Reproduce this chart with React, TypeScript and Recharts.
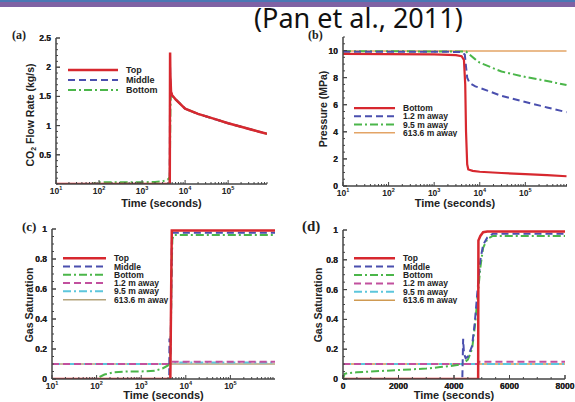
import React from "react";
import { LineChart, Line, XAxis, YAxis, Legend } from "recharts";

// ---- panel (a): CO2 flow rate (kg/s) vs time, log x ----
const flowTimeTopMid = [10, 4400, 4480, 4530, 4700, 5000, 6000, 8000, 1e4, 2e4, 5e4, 1e5, 2e5, 5e5, 8e5];
const flowTop = [0, 0, 2.25, 1.9, 1.58, 1.52, 1.45, 1.36, 1.29, 1.2, 1.11, 1.04, 0.98, 0.9, 0.86];
const flowMiddle = [0, 0, 2.0, 1.8, 1.57, 1.51, 1.45, 1.36, 1.29, 1.2, 1.11, 1.04, 0.98, 0.9, 0.86];
const flowTimeBottom = [10, 70, 90, 200, 500, 1000, 2000, 3000, 4000, 4400, 4560, 4700, 5000, 6000, 8000, 1e4, 2e4, 5e4, 1e5, 2e5, 5e5, 8e5];
const flowBottom = [0, 0, 0.03, 0.03, 0.03, 0.03, 0.035, 0.045, 0.08, 0.12, 1.3, 1.56, 1.51, 1.45, 1.36, 1.29, 1.2, 1.11, 1.04, 0.98, 0.9, 0.86];

// ---- panel (b): pressure (MPa) vs time, log x ----
const presTimeBottom = [10, 1000, 3000, 4000, 4500, 4800, 5000, 5300, 5600, 7000, 1e4, 3e4, 1e5, 3e5, 8e5];
const presBottom = [9.75, 9.72, 9.66, 9.58, 9.3, 7.5, 4.0, 1.6, 1.22, 1.12, 1.05, 0.96, 0.88, 0.8, 0.72];
const presTime12 = [10, 4000, 4700, 5000, 5300, 6000, 8000, 1e4, 3e4, 1e5, 3e5, 8e5];
const pres12 = [9.92, 9.9, 9.7, 8.8, 8.0, 7.6, 7.35, 7.25, 6.65, 6.2, 5.8, 5.45];
const presTime95 = [10, 5000, 6000, 8000, 1e4, 3e4, 1e5, 3e5, 8e5];
const pres95 = [9.95, 9.93, 9.7, 9.35, 9.1, 8.45, 8.05, 7.75, 7.45];
const presTime6136 = [10, 8e5];
const pres6136 = [9.97, 9.97];

// ---- panel (c): gas saturation vs time, log x ----
const satLogTimeTop = [10, 4500, 4700, 4850, 1e6];
const satLogTop = [0, 0, 0.6, 0.99, 0.99];
const satLogTimeMid = [10, 4250, 4300, 4350, 4450, 4550, 4700, 4850, 5000, 1e6];
const satLogMid = [0, 0, 0.27, 0.15, 0.12, 0.2, 0.5, 0.9, 0.975, 0.975];
const satLogTimeBot = [10, 95, 150, 250, 500, 1000, 2000, 3000, 4000, 4400, 4600, 4800, 5000, 5300, 1e6];
const satLogBot = [0, 0, 0.03, 0.045, 0.05, 0.05, 0.055, 0.07, 0.09, 0.11, 0.25, 0.7, 0.93, 0.96, 0.96];
const satLogTime12 = [10, 4500, 4800, 1e6];
const satLog12 = [0.1, 0.1, 0.115, 0.115];
const satLogTime95 = [10, 4500, 4800, 1e6];
const satLog95 = [0.1, 0.1, 0.11, 0.11];
const satLogTime6136 = [10, 1e6];
const satLog6136 = [0.1, 0.1];

// ---- panel (d): gas saturation vs time, linear x ----
const satTimeTop = [0, 4870, 4880, 4950, 5050, 5200, 8000];
const satTop = [0, 0, 0.93, 0.96, 0.985, 0.99, 0.99];
const satTimeMid = [0, 4300, 4330, 4360, 4420, 4500, 4650, 4750, 4850, 4950, 5050, 5200, 5400, 8000];
const satMid = [0, 0, 0.27, 0.17, 0.14, 0.15, 0.22, 0.38, 0.6, 0.8, 0.9, 0.95, 0.975, 0.975];
const satTimeBot = [0, 60, 200, 500, 1000, 2000, 3000, 3500, 4000, 4300, 4500, 4650, 4750, 4850, 4950, 5050, 5200, 5400, 8000];
const satBot = [0, 0.035, 0.04, 0.045, 0.05, 0.06, 0.07, 0.08, 0.09, 0.1, 0.13, 0.2, 0.35, 0.55, 0.75, 0.88, 0.94, 0.96, 0.96];
const satTime12 = [0, 4870, 4900, 8000];
const sat12 = [0.1, 0.1, 0.115, 0.115];
const satTime95 = [0, 8000];
const sat95 = [0.1, 0.1];
const satTime6136 = [0, 8000];
const sat6136 = [0.1, 0.1];

// ---- ticks ----
const logMajor = [10, 100, 1000, 1e4, 1e5];
const flowTicks = [0.5, 1, 1.5, 2, 2.5];
const presTicks = [0, 2, 4, 6, 8, 10];
const satTicks = [0, 0.2, 0.4, 0.6, 0.8, 1];
const linTimeTicks = [0, 2000, 4000, 6000, 8000];

const FONT = "'Liberation Sans', Arial, sans-serif";
const RED = "#d7282f";
const BLUE = "#4a4fae";
const GREEN = "#4bb64a";
const ORANGE = "#e3a466";
const MAGENTA = "#c2509e";
const CYAN = "#5cc6dc";
const TAN = "#b4a47c";
const TAN_D = "#cf9a52";
const AXIS = "#444";

const pts = (xs: number[], ys: number[]) => xs.map((x, i) => ({ x, y: ys[i] }));

function logMinors(max: number) {
  const out: number[] = [];
  for (let e = 1; e <= 5; e++) {
    for (let m = 2; m <= 9; m++) {
      const v = m * Math.pow(10, e);
      if (v <= max) out.push(v);
    }
  }
  return out;
}

function linMinors(max: number, step: number) {
  const out: number[] = [];
  for (let i = 0; i * step <= max + 1e-9; i++) out.push(Math.round(i * step * 1000) / 1000);
  return out;
}

type Series = { name: string; xs: number[]; ys: number[]; color: string; width: number; dash?: string };

const M = 6;

function xTick(majors: number[], log: boolean, side: "bottom" | "top") {
  return (p: any) => {
    const v = p.payload.value;
    const isMajor = majors.some((m) => Math.abs(m - v) < 1e-6);
    const len = isMajor ? 4 : 2;
    if (side === "top") {
      const ay = p.y + M;
      return <line x1={p.x} x2={p.x} y1={ay} y2={ay + len} stroke={AXIS} strokeWidth={1} />;
    }
    const ay = p.y - M;
    let label: React.ReactNode = null;
    if (isMajor) {
      label = log ? (
        <text x={p.x} y={ay + 10} textAnchor="middle" fontSize={8.5} fontWeight="bold" fontFamily={FONT} fill="#222">
          10<tspan dy={-4} fontSize={5.5}>{Math.round(Math.log10(v))}</tspan>
        </text>
      ) : (
        <text x={p.x} y={ay + 10} textAnchor="middle" fontSize={8.5} fontWeight="bold" fontFamily={FONT} fill="#222">
          {v}
        </text>
      );
    }
    return (
      <g>
        <line x1={p.x} x2={p.x} y1={ay} y2={ay - len} stroke={AXIS} strokeWidth={1} />
        {label}
      </g>
    );
  };
}

function yTick(majors: number[], side: "left" | "right") {
  return (p: any) => {
    const v = p.payload.value;
    const isMajor = majors.some((m) => Math.abs(m - v) < 1e-6);
    const len = isMajor ? 4 : 2;
    if (side === "right") {
      const ax = p.x - M;
      return <line x1={ax} x2={ax - len} y1={p.y} y2={p.y} stroke={AXIS} strokeWidth={1} />;
    }
    const ax = p.x + M;
    return (
      <g>
        <line x1={ax} x2={ax + len} y1={p.y} y2={p.y} stroke={AXIS} strokeWidth={1} />
        {isMajor ? (
          <text x={ax - 5} y={p.y + 3} textAnchor="end" fontSize={8.5} fontWeight="bold" fontFamily={FONT} fill="#222">
            {v}
          </text>
        ) : null}
      </g>
    );
  };
}

function LegendBox({ items, rowH, lineW, fontSize }: { items: Series[]; rowH: number; lineW: number; fontSize: number }) {
  const w = 130;
  return (
    <svg width={w} height={items.length * rowH} style={{ display: "block" }}>
      {items.map((s, i) => {
        const cy = i * rowH + rowH / 2;
        return (
          <g key={s.name}>
            <line x1={0} x2={lineW} y1={cy} y2={cy} stroke={s.color} strokeWidth={s.width} strokeDasharray={s.dash} />
            <text x={lineW + 8} y={cy + fontSize * 0.36} fontSize={fontSize} fontWeight="bold" fontFamily={FONT} fill="#222">
              {s.name}
            </text>
          </g>
        );
      })}
    </svg>
  );
}

type PanelProps = {
  box: { left: number; top: number; width: number; height: number };
  plot: { x0: number; x1: number; y0: number; y1: number };
  log: boolean;
  xDomain: [number, number];
  xMajor: number[];
  xMinor: number[];
  yDomain: [number, number];
  yMajor: number[];
  yMinor: number[];
  yLabel: React.ReactNode;
  yLabelX: number;
  yLabelY: number;
  xLabelY: number;
  series: Series[];
  legend: { x: number; y: number; rowH: number; lineW: number; fontSize: number };
};

function Panel(props: PanelProps) {
  const { box, plot } = props;
  const YW = 30;
  const XH = 30;
  const margin = {
    top: plot.y0 - box.top,
    left: plot.x0 - box.left - YW,
    right: box.left + box.width - plot.x1,
    bottom: box.top + box.height - XH - plot.y1,
  };
  const xTicksAll = [...props.xMajor, ...props.xMinor].sort((a, b) => a - b);
  const yTicksAll = [...props.yMajor, ...props.yMinor].sort((a, b) => a - b);
  const scale = props.log ? "log" : "linear";
  return (
    <div style={{ position: "absolute", left: box.left, top: box.top }}>
      <LineChart width={box.width} height={box.height} margin={margin}>
        <XAxis
          xAxisId={0}
          dataKey="x"
          type="number"
          scale={scale}
          domain={props.xDomain}
          allowDataOverflow
          ticks={xTicksAll}
          interval={0}
          height={XH}
          tickSize={0}
          tickMargin={M}
          tick={xTick(props.xMajor, props.log, "bottom")}
          axisLine={{ stroke: AXIS, strokeWidth: 1.5 }}
          label={{
            content: () => (
              <text x={(plot.x0 + plot.x1) / 2 - box.left} y={props.xLabelY - box.top} textAnchor="middle" fontSize={11} fontWeight="bold" fontFamily={FONT} fill="#222">
                Time (seconds)
              </text>
            ),
          }}
        />
        <XAxis
          xAxisId="top"
          dataKey="x"
          orientation="top"
          type="number"
          scale={scale}
          domain={props.xDomain}
          allowDataOverflow
          ticks={xTicksAll}
          interval={0}
          height={0}
          tickSize={0}
          tickMargin={M}
          tick={xTick(props.xMajor, props.log, "top")}
          axisLine={{ stroke: AXIS, strokeWidth: 1.5 }}
        />
        <YAxis
          yAxisId={0}
          type="number"
          domain={props.yDomain}
          allowDataOverflow
          ticks={yTicksAll}
          interval={0}
          width={YW}
          tickSize={0}
          tickMargin={M}
          tick={yTick(props.yMajor, "left")}
          axisLine={{ stroke: AXIS, strokeWidth: 1.5 }}
          label={{
            content: () => {
              const x = props.yLabelX - box.left;
              const y = props.yLabelY - box.top;
              return (
                <text x={x} y={y} transform={`rotate(-90 ${x} ${y})`} textAnchor="middle" dominantBaseline="central" fontSize={10.5} fontWeight="bold" fontFamily={FONT} fill="#222">
                  {props.yLabel}
                </text>
              );
            },
          }}
        />
        <YAxis
          yAxisId="right"
          orientation="right"
          type="number"
          domain={props.yDomain}
          allowDataOverflow
          ticks={yTicksAll}
          interval={0}
          width={0}
          tickSize={0}
          tickMargin={M}
          tick={yTick(props.yMajor, "right")}
          axisLine={{ stroke: AXIS, strokeWidth: 1.5 }}
        />
        <Legend
          layout="vertical"
          align="center"
          verticalAlign="middle"
          wrapperStyle={{ left: props.legend.x - box.left, top: props.legend.y - box.top, width: "auto", height: "auto" }}
          content={() => (
            <LegendBox items={props.series} rowH={props.legend.rowH} lineW={props.legend.lineW} fontSize={props.legend.fontSize} />
          )}
        />
        {props.series
          .slice()
          .reverse()
          .map((s) => (
            <Line
              key={s.name}
              data={pts(s.xs, s.ys)}
              dataKey="y"
              name={s.name}
              type="linear"
              stroke={s.color}
              strokeWidth={s.width}
              strokeDasharray={s.dash}
              dot={false}
              activeDot={false}
              legendType="none"
              isAnimationActive={false}
            />
          ))}
      </LineChart>
    </div>
  );
}

const DASH = "7 4";
const DASHDOT = "8 3 2 3";

export default function App() {
  const seriesA: Series[] = [
    { name: "Top", xs: flowTimeTopMid, ys: flowTop, color: RED, width: 2.5 },
    { name: "Middle", xs: flowTimeTopMid, ys: flowMiddle, color: BLUE, width: 2, dash: DASH },
    { name: "Bottom", xs: flowTimeBottom, ys: flowBottom, color: GREEN, width: 2, dash: DASHDOT },
  ];
  const seriesB: Series[] = [
    { name: "Bottom", xs: presTimeBottom, ys: presBottom, color: RED, width: 2.2 },
    { name: "1.2 m away", xs: presTime12, ys: pres12, color: BLUE, width: 2, dash: DASH },
    { name: "9.5 m away", xs: presTime95, ys: pres95, color: GREEN, width: 2, dash: DASHDOT },
    { name: "613.6 m away", xs: presTime6136, ys: pres6136, color: ORANGE, width: 1.5 },
  ];
  const seriesC: Series[] = [
    { name: "Top", xs: satLogTimeTop, ys: satLogTop, color: RED, width: 2.5 },
    { name: "Middle", xs: satLogTimeMid, ys: satLogMid, color: BLUE, width: 2, dash: DASH },
    { name: "Bottom", xs: satLogTimeBot, ys: satLogBot, color: GREEN, width: 2, dash: DASHDOT },
    { name: "1.2 m away", xs: satLogTime12, ys: satLog12, color: MAGENTA, width: 2, dash: DASH },
    { name: "9.5 m away", xs: satLogTime95, ys: satLog95, color: CYAN, width: 2, dash: DASHDOT },
    { name: "613.6 m away", xs: satLogTime6136, ys: satLog6136, color: TAN, width: 1.5 },
  ];
  const seriesD: Series[] = [
    { name: "Top", xs: satTimeTop, ys: satTop, color: RED, width: 2.5 },
    { name: "Middle", xs: satTimeMid, ys: satMid, color: BLUE, width: 2, dash: DASH },
    { name: "Bottom", xs: satTimeBot, ys: satBot, color: GREEN, width: 2, dash: DASHDOT },
    { name: "1.2 m away", xs: satTime12, ys: sat12, color: MAGENTA, width: 2, dash: DASH },
    { name: "9.5 m away", xs: satTime95, ys: sat95, color: CYAN, width: 2, dash: DASHDOT },
    { name: "613.6 m away", xs: satTime6136, ys: sat6136, color: TAN_D, width: 1.5 },
  ];

  const panelLabel = (text: string, x: number, y: number, size: number) => (
    <div
      style={{
        position: "absolute",
        left: x,
        top: y,
        fontFamily: "'Liberation Serif', 'Times New Roman', serif",
        fontSize: size,
        fontWeight: "bold",
        color: "#222",
        lineHeight: 1,
      }}
    >
      {text}
    </div>
  );

  return (
    <div style={{ position: "absolute", left: 0, top: 0, width: 575, height: 402, background: "#fff", overflow: "hidden" }}>
      <div style={{ position: "absolute", left: 0, top: 0, width: 575, height: 2, background: "#4a78b4" }} />
      <div style={{ position: "absolute", left: 0, top: 2, width: 575, height: 5, background: "#7f62a4" }} />
      <div
        style={{
          position: "absolute",
          left: 254,
          top: 4,
          fontFamily: "'Noto Sans', 'Open Sans', sans-serif",
          fontSize: 27,
          color: "#111",
          lineHeight: 1,
          whiteSpace: "nowrap",
        }}
      >
        (Pan et al., 2011)
      </div>

      <Panel
        box={{ left: 0, top: 0, width: 287, height: 215 }}
        plot={{ x0: 56, x1: 267, y0: 38, y1: 184 }}
        log
        xDomain={[10, 8e5]}
        xMajor={logMajor}
        xMinor={logMinors(8e5)}
        yDomain={[0, 2.5]}
        yMajor={flowTicks}
        yMinor={linMinors(2.5, 0.1)}
        yLabel={
          <>
            CO<tspan dy={3} fontSize={7}>2</tspan>
            <tspan dy={-3}> Flow Rate (kg/s)</tspan>
          </>
        }
        yLabelX={30}
        yLabelY={115}
        xLabelY={207}
        series={seriesA}
        legend={{ x: 68, y: 65, rowH: 10, lineW: 50, fontSize: 9 }}
      />
      <Panel
        box={{ left: 287, top: 0, width: 288, height: 215 }}
        plot={{ x0: 343, x1: 567, y0: 37, y1: 186 }}
        log
        xDomain={[10, 8.2e5]}
        xMajor={logMajor}
        xMinor={logMinors(8.2e5)}
        yDomain={[0, 11]}
        yMajor={presTicks}
        yMinor={linMinors(11, 0.5)}
        yLabel="Pressure (MPa)"
        yLabelX={323}
        yLabelY={109}
        xLabelY={207}
        series={seriesB}
        legend={{ x: 354, y: 104, rowH: 8.2, lineW: 41, fontSize: 8.5 }}
      />
      <Panel
        box={{ left: 0, top: 200, width: 287, height: 202 }}
        plot={{ x0: 52, x1: 275, y0: 229, y1: 379 }}
        log
        xDomain={[10, 1e6]}
        xMajor={logMajor}
        xMinor={logMinors(1e6)}
        yDomain={[0, 1]}
        yMajor={satTicks}
        yMinor={linMinors(1, 0.05)}
        yLabel="Gas Saturation"
        yLabelX={29}
        yLabelY={305}
        xLabelY={399}
        series={seriesC}
        legend={{ x: 63, y: 254, rowH: 8.3, lineW: 43, fontSize: 8.5 }}
      />
      <Panel
        box={{ left: 287, top: 200, width: 288, height: 202 }}
        plot={{ x0: 343, x1: 565, y0: 230, y1: 379 }}
        log={false}
        xDomain={[0, 8000]}
        xMajor={linTimeTicks}
        xMinor={linMinors(8000, 500)}
        yDomain={[0, 1]}
        yMajor={satTicks}
        yMinor={linMinors(1, 0.05)}
        yLabel="Gas Saturation"
        yLabelX={318}
        yLabelY={305}
        xLabelY={399}
        series={seriesD}
        legend={{ x: 354, y: 254, rowH: 8.4, lineW: 41, fontSize: 8.5 }}
      />

      {panelLabel("(a)", 12, 29, 12)}
      {panelLabel("(b)", 308, 29, 12)}
      {panelLabel("(c)", 22, 220, 13)}
      {panelLabel("(d)", 302, 219, 15)}
    </div>
  );
}
